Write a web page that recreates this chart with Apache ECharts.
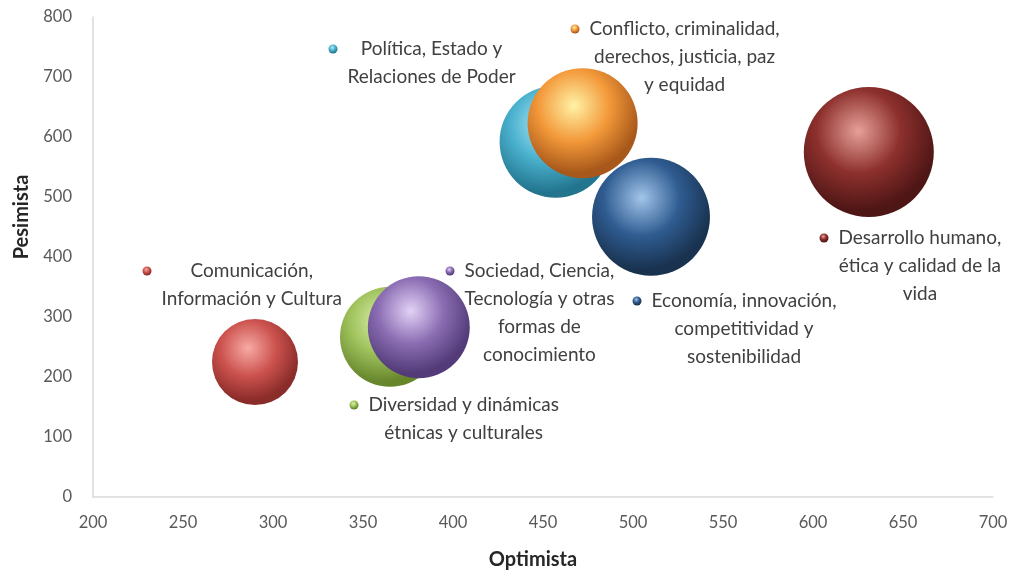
<!DOCTYPE html>
<html>
<head>
<meta charset="utf-8">
<script src="https://cdn.jsdelivr.net/npm/echarts@6/dist/echarts.min.js"></script>
<style>
  html, body { margin: 0; padding: 0; background: #ffffff; }
  #chart { width: 1013px; height: 581px; }
</style>
</head>
<body>
<div id="chart"></div>
<script>
// Thematic areas: optimistic vs pessimistic scores, bubble size = weight of the area
const temas = [
  'Comunicación, Información y Cultura',
  'Diversidad y dinámicas étnicas y culturales',
  'Sociedad, Ciencia, Tecnología y otras formas de conocimiento',
  'Política, Estado y Relaciones de Poder',
  'Conflicto, criminalidad, derechos, justicia, paz y equidad',
  'Economía, innovación, competitividad y sostenibilidad',
  'Desarrollo humano, ética y calidad de la vida'
];
const optimista = [290, 365, 381, 457, 472, 510, 631];
const pesimista = [225, 267, 283, 592, 623, 467, 575];
const tamano = [185, 250, 260, 314, 303, 348, 423];

// Wrapped text of each legend entry
const lineasLeyenda = [
  ['Comunicación,', 'Información y Cultura'],
  ['Diversidad y dinámicas', 'étnicas y culturales'],
  ['Sociedad, Ciencia,', 'Tecnología y otras', 'formas de', 'conocimiento'],
  ['Política, Estado y', 'Relaciones de Poder'],
  ['Conflicto, criminalidad,', 'derechos, justicia, paz', 'y equidad'],
  ['Economía, innovación,', 'competitividad y', 'sostenibilidad'],
  ['Desarrollo humano,', 'ética y calidad de la', 'vida']
];

// Placement of each legend marker inside the chart (pixels)
const posLeyenda = [
  [147, 270], [354, 404], [450, 270], [333, 48],
  [575, 28], [637, 300], [824, 237]
];

// Sphere shading per series: [highlight, body, edge]
const tonos = [
  ['#f7aaa5', '#cc524e', '#8a2c29'],
  ['#dcf2ad', '#9fc25c', '#67862c'],
  ['#e2d2f6', '#8a6cb2', '#523b78'],
  ['#b5ecf8', '#4ab1ce', '#23758e'],
  ['#fff2a6', '#f3993a', '#a8581a'],
  ['#a2c5ea', '#2f5c91', '#19324f'],
  ['#e6a098', '#8d302d', '#4e1615']
];

function esfera(t) {
  return {
    type: 'radial', x: 0.42, y: 0.34, r: 0.72,
    colorStops: [
      { offset: 0, color: t[0] },
      { offset: 0.45, color: t[1] },
      { offset: 0.85, color: t[2] },
      { offset: 1, color: t[2] }
    ]
  };
}

const maxTam = Math.max.apply(null, tamano);
const RMAX = 65;

const series = temas.map(function (nombre, i) {
  return {
    name: nombre,
    type: 'scatter',
    data: [[optimista[i], pesimista[i], tamano[i]]],
    symbolSize: function (v) { return 2 * RMAX * Math.sqrt(v[2] / maxTam); },
    itemStyle: { color: esfera(tonos[i]), opacity: 1 },
    emphasis: { disabled: true },
    z: 2 + i
  };
});

const LH = 28;
const legends = temas.map(function (nombre, i) {
  const n = lineasLeyenda[i].length;
  return {
    data: [nombre],
    selectedMode: false,
    icon: 'circle',
    itemWidth: 9,
    itemHeight: 9,
    padding: 0,
    left: posLeyenda[i][0] - 4.5,
    top: posLeyenda[i][1] - 8.5,
    formatter: function () {
      return lineasLeyenda[i].map(function (l) { return '{c|' + l + '}'; }).join('\n');
    },
    textStyle: {
      // top padding keeps the first line level with the marker
      padding: [(n - 1) * LH, 0, 0, 5],
      rich: {
        c: {
          align: 'center',
          fontFamily: 'Lato',
          fontSize: 19,
          lineHeight: LH,
          color: '#404040'
        }
      }
    }
  };
});

const chart = echarts.init(document.getElementById('chart'), null, { renderer: 'canvas' });
chart.setOption({
  animation: false,
  backgroundColor: '#ffffff',
  legend: legends,
  grid: { left: 93, right: 20, top: 17, bottom: 84, containLabel: false },
  xAxis: {
    type: 'value',
    min: 200, max: 700, interval: 50,
    name: 'Optimista',
    nameLocation: 'middle',
    nameGap: 53,
    nameTextStyle: { fontFamily: 'Lato', fontSize: 20, fontWeight: 'bold', color: '#262626', padding: [0, 20, 0, 0] },
    axisLine: { show: true, lineStyle: { color: '#d9d9d9', width: 1.5 } },
    axisTick: { show: false },
    splitLine: { show: false },
    axisLabel: { fontFamily: 'Lato', fontSize: 16.5, color: '#595959', margin: 17 }
  },
  yAxis: {
    type: 'value',
    min: 0, max: 800, interval: 100,
    name: 'Pesimista',
    nameLocation: 'middle',
    nameGap: 61,
    nameTextStyle: { fontFamily: 'Lato', fontSize: 20, fontWeight: 'bold', color: '#262626', padding: [0, 0, 0, 80] },
    axisLine: { show: true, lineStyle: { color: '#d9d9d9', width: 1.5 } },
    axisTick: { show: false },
    splitLine: { show: false },
    axisLabel: { fontFamily: 'Lato', fontSize: 16.5, color: '#595959', margin: 21 }
  },
  series: series
});
</script>
</body>
</html>
